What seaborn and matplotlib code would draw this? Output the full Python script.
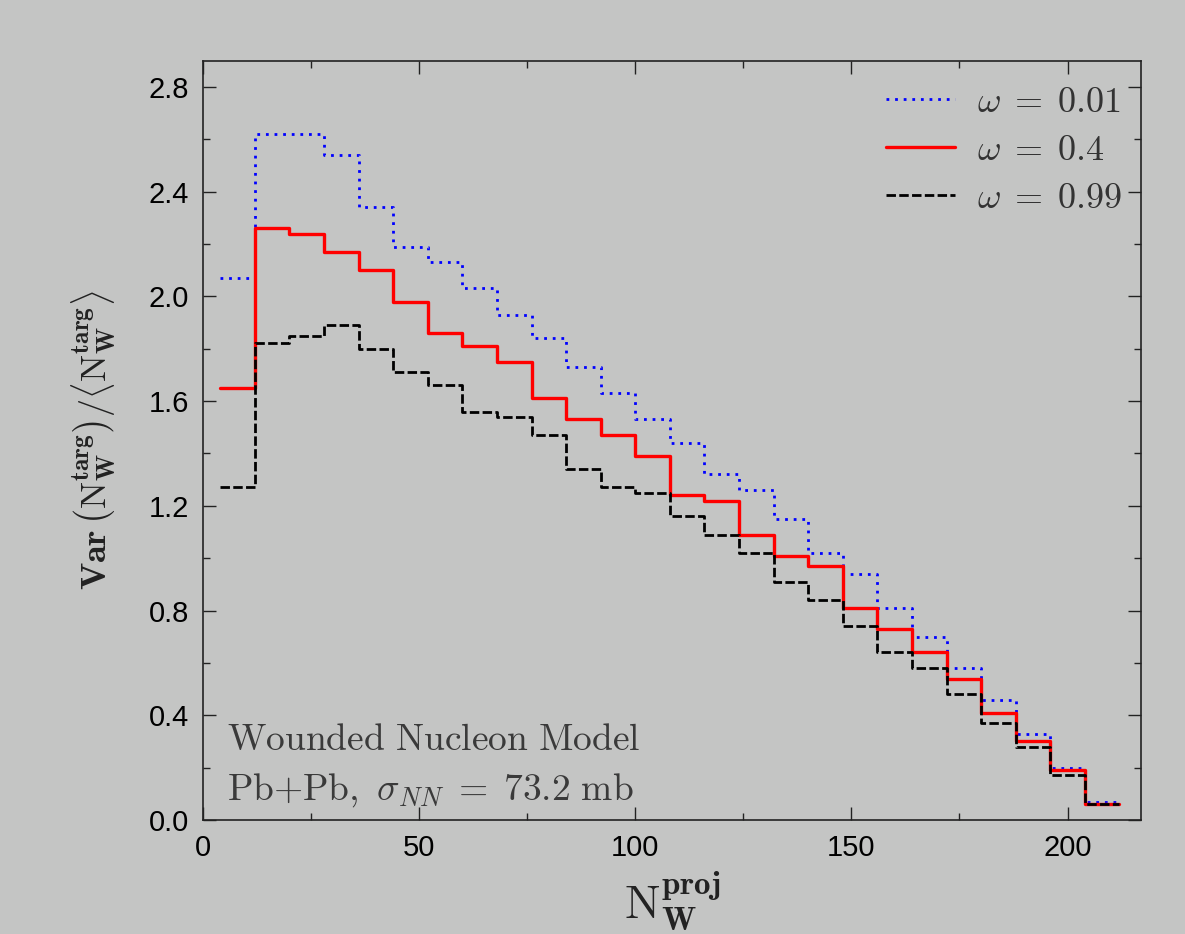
import matplotlib
matplotlib.use("Agg")
import matplotlib.pyplot as plt
from matplotlib.ticker import MultipleLocator
import pandas as pd
import seaborn as sns

# bin centres of N_W^proj (bins of width 8)
n_proj = [8, 16, 24, 32, 40, 48, 56, 64, 72, 80, 88, 96, 104,
          112, 120, 128, 136, 144, 152, 160, 168, 176, 184, 192, 200, 208]
bin_width = 8

# scaled variance of N_W^targ
var_w001 = [2.07, 2.62, 2.62, 2.54, 2.34, 2.19, 2.13, 2.03, 1.93, 1.84, 1.73,
            1.63, 1.53, 1.44, 1.32, 1.26, 1.15, 1.02, 0.94, 0.81, 0.70, 0.58,
            0.46, 0.33, 0.20, 0.07]
var_w04 = [1.65, 2.26, 2.24, 2.17, 2.10, 1.98, 1.86, 1.81, 1.75, 1.61, 1.53,
           1.47, 1.39, 1.24, 1.22, 1.09, 1.01, 0.97, 0.81, 0.73, 0.64, 0.54,
           0.41, 0.30, 0.19, 0.06]
var_w099 = [1.27, 1.82, 1.85, 1.89, 1.80, 1.71, 1.66, 1.56, 1.54, 1.47, 1.34,
            1.27, 1.25, 1.16, 1.09, 1.02, 0.91, 0.84, 0.74, 0.64, 0.58, 0.48,
            0.37, 0.28, 0.17, 0.06]

labels = [r"$\omega\;=\;0.01$", r"$\omega\;=\;0.4$", r"$\omega\;=\;0.99$"]
colors = ["#0000ff", "#ff0000", "#000000"]
styles = [(0, (1, 2.1)), "-", (0, (3.4, 1.2))]
widths = [2.0, 2.4, 2.0]

bg = "#c4c5c4"
sns.set_style("ticks")
plt.rcParams["font.family"] = ["Liberation Sans", "DejaVu Sans"]
plt.rcParams["mathtext.fontset"] = "cm"


def step_frame(centres, values):
    # edges of every bin, last value repeated to close the final step
    edges = [c - bin_width / 2 for c in centres] + [centres[-1] + bin_width / 2]
    return pd.DataFrame({"x": edges, "y": list(values) + [values[-1]]})


fig = plt.figure(figsize=(11.85, 9.34), dpi=100, facecolor=bg)
ax = fig.add_axes([0.1713, 0.1221, 0.7916, 0.8129])
ax.set_facecolor(bg)

for vals, lab, col, ls, lw in zip([var_w001, var_w04, var_w099], labels,
                                  colors, styles, widths):
    sns.lineplot(data=step_frame(n_proj, vals), x="x", y="y", ax=ax,
                 drawstyle="steps-post", color=col, linestyle=ls,
                 linewidth=lw, label=lab)

ax.set_xlim(0, 217)
ax.set_ylim(0, 2.9)
ax.xaxis.set_major_locator(MultipleLocator(50))
ax.xaxis.set_minor_locator(MultipleLocator(25))
ax.yaxis.set_major_locator(MultipleLocator(0.4))
ax.yaxis.set_minor_locator(MultipleLocator(0.2))
ax.yaxis.set_major_formatter(matplotlib.ticker.FormatStrFormatter("%.1f"))
ax.tick_params(which="both", direction="in", top=True, right=True,
               colors="#222222", labelcolor="black", labelsize=21, width=1.0)
ax.tick_params(which="major", length=9.5, pad=10)
ax.tick_params(which="minor", length=5)
for sp in ax.spines.values():
    sp.set_color("#222222")
    sp.set_linewidth(1.2)

ax.set_xlabel(r"$\mathrm{N}_{\mathbf{W}}^{\mathbf{proj}}$", fontsize=34,
              color="#222222", labelpad=6)
ax.set_ylabel(r"$\mathbf{Var}\,\left(\mathrm{N}_{\mathbf{W}}^{\mathbf{targ}}\right)"
              r"/\langle\mathrm{N}_{\mathbf{W}}^{\mathbf{targ}}\rangle$",
              fontsize=26, color="#222222", labelpad=22)

ax.legend(loc="upper right", bbox_to_anchor=(0.997, 0.99), frameon=False,
          fontsize=26, handlelength=1.9, labelspacing=0.36, handletextpad=0.6,
          borderaxespad=0.05, labelcolor="#333333")

ax.text(0.026, 0.092, r"$\mathrm{Wounded\ Nucleon\ Model}$", transform=ax.transAxes,
        fontsize=27, color="#3a3a3a")
ax.text(0.026, 0.027, r"$\mathrm{Pb{+}Pb},\ \sigma_{NN}\;=\;73.2\ \mathrm{mb}$",
        transform=ax.transAxes, fontsize=27, color="#3a3a3a")

fig.savefig("out.png", dpi=100, facecolor=bg)
